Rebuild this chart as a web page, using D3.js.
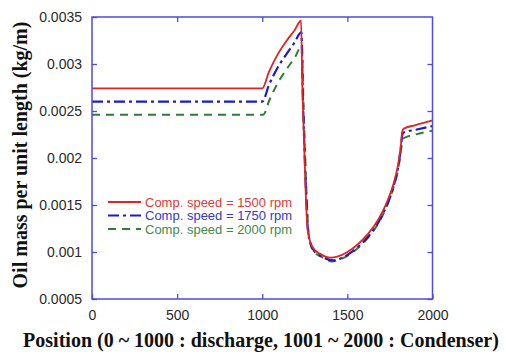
<!DOCTYPE html>
<html>
<head>
<meta charset="utf-8">
<script src="https://cdn.jsdelivr.net/npm/d3@7"></script>
<style>
  html, body { margin: 0; padding: 0; background: #fff; }
  svg { display: block; }
</style>
</head>
<body>
<svg id="chart" width="505" height="352"></svg>
<script>
// Oil mass per unit length along the discharge line (0-1000) and condenser (1001-2000)
const xTicks = [0, 500, 1000, 1500, 2000];
const yTicks = [0.0005, 0.001, 0.0015, 0.002, 0.0025, 0.003, 0.0035];
const yTickLabels = ["0.0005", "0.001", "0.0015", "0.002", "0.0025", "0.003", "0.0035"];

const seriesNames = ["Comp. speed = 1500 rpm", "Comp. speed = 1750 rpm", "Comp. speed = 2000 rpm"];

const pos1500 = [0, 500, 1000, 1040, 1090, 1140, 1190, 1228, 1235, 1245, 1255, 1265, 1280, 1300, 1340, 1400, 1440, 1500, 1560, 1620, 1680, 1730, 1770, 1800, 1815, 1822, 1830, 1900, 2000];
const mass1500 = [0.00274, 0.00274, 0.00274, 0.00292, 0.00310, 0.00324, 0.00336, 0.00346, 0.00280, 0.00220, 0.00164, 0.00127, 0.00112, 0.00104, 0.00098, 0.00094, 0.00095, 0.00100, 0.00108, 0.00119, 0.00134, 0.00152, 0.00172, 0.00195, 0.00215, 0.00228, 0.00231, 0.00235, 0.00240];

const pos1750 = [0, 500, 1000, 1040, 1090, 1140, 1190, 1230, 1238, 1248, 1258, 1268, 1282, 1302, 1342, 1420, 1460, 1500, 1560, 1620, 1680, 1730, 1770, 1800, 1815, 1822, 1830, 1900, 2000];
const mass1750 = [0.00260, 0.00260, 0.00260, 0.00278, 0.00296, 0.00310, 0.00323, 0.00334, 0.00270, 0.00210, 0.00160, 0.00124, 0.00110, 0.00102, 0.00096, 0.00091, 0.00093, 0.00097, 0.00105, 0.00116, 0.00131, 0.00149, 0.00169, 0.00192, 0.00212, 0.00224, 0.00227, 0.00230, 0.00234];

const pos2000 = [0, 500, 1005, 1045, 1095, 1145, 1195, 1233, 1242, 1252, 1262, 1272, 1286, 1306, 1346, 1410, 1450, 1500, 1560, 1620, 1680, 1730, 1770, 1800, 1815, 1822, 1830, 1900, 2000];
const mass2000 = [0.00246, 0.00246, 0.00246, 0.00263, 0.00281, 0.00295, 0.00308, 0.00320, 0.00260, 0.00203, 0.00155, 0.00121, 0.00107, 0.00100, 0.00095, 0.00090, 0.00092, 0.00096, 0.00104, 0.00115, 0.00130, 0.00148, 0.00168, 0.00190, 0.00208, 0.00219, 0.00221, 0.00225, 0.00229];

const series = [
  { name: seriesNames[0], x: pos1500, y: mass1500, color: "#e02424", text: "#e03a3a", width: 1.8, dash: null },
  { name: seriesNames[1], x: pos1750, y: mass1750, color: "#1a1ad0", text: "#3838c8", width: 2.2, dash: "11,4,3,4" },
  { name: seriesNames[2], x: pos2000, y: mass2000, color: "#2f7d35", text: "#3f8a45", width: 2.0, dash: "8,6" }
];

const svg = d3.select("#chart");
const L = 92, R = 432.5, T = 17, B = 299;
const x = d3.scaleLinear().domain([0, 2000]).range([L, R]);
const y = d3.scaleLinear().domain([0.0005, 0.0035]).range([B, T]);
const frameColor = "#4c4cdc";

// curves (clipped to the plot frame)
svg.append("clipPath").attr("id", "plotclip")
  .append("rect").attr("x", L).attr("y", T).attr("width", R - L).attr("height", B - T);

const line = d3.line()
  .x(d => x(d[0]))
  .y(d => y(d[1]))
  .curve(d3.curveMonotoneX);

const gLines = svg.append("g").attr("clip-path", "url(#plotclip)");
series.slice().reverse().forEach(s => {
  gLines.append("path")
    .datum(s.x.map((v, i) => [v, s.y[i]]))
    .attr("d", line)
    .attr("fill", "none")
    .attr("stroke", s.color)
    .attr("stroke-width", s.width)
    .attr("stroke-dasharray", s.dash);
});

// frame with inward ticks on all four sides
const fontSans = "'Liberation Sans', Arial, sans-serif";
const fontSerif = "'Liberation Serif', 'Times New Roman', serif";

const axB = d3.axisBottom(x).tickValues(xTicks).tickSizeInner(-5).tickSizeOuter(0).tickPadding(11).tickFormat(d3.format("d"));
const axT = d3.axisTop(x).tickValues(xTicks.slice(1, -1)).tickSizeInner(-5).tickSizeOuter(0).tickFormat("");
const axL = d3.axisLeft(y).tickValues(yTicks).tickSizeInner(-5).tickSizeOuter(0).tickPadding(10)
  .tickFormat((d, i) => yTickLabels[i]);
const axR = d3.axisRight(y).tickValues(yTicks.slice(0, -1)).tickSizeInner(-5).tickSizeOuter(0).tickFormat("");

function styleAxis(g) {
  g.select(".domain").remove();
  g.selectAll(".tick line").attr("stroke", frameColor).attr("stroke-width", 1.3);
  g.selectAll(".tick text").attr("fill", "#2a2a2a").style("font-family", fontSans).style("font-size", "14px");
}
svg.append("g").attr("transform", `translate(0,${B})`).call(axB).call(styleAxis);
svg.append("g").attr("transform", `translate(0,${T})`).call(axT).call(styleAxis);
svg.append("g").attr("transform", `translate(${L},0)`).call(axL).call(styleAxis);
svg.append("g").attr("transform", `translate(${R},0)`).call(axR).call(styleAxis);

svg.append("rect")
  .attr("x", L).attr("y", T).attr("width", R - L).attr("height", B - T)
  .attr("fill", "none").attr("stroke", frameColor).attr("stroke-width", 1.5);

// axis titles
svg.append("text")
  .attr("x", 261).attr("y", 347)
  .attr("text-anchor", "middle")
  .style("font-family", fontSerif).style("font-weight", "bold").style("font-size", "20px")
  .attr("fill", "#111")
  .text("Position (0 ~ 1000 : discharge, 1001 ~ 2000 : Condenser)");

svg.append("text")
  .attr("transform", "translate(27,155) rotate(-90)")
  .attr("text-anchor", "middle")
  .style("font-family", fontSerif).style("font-weight", "bold").style("font-size", "20px")
  .attr("fill", "#111")
  .text("Oil mass per unit length (kg/m)");

// legend
const legend = svg.append("g");
series.forEach((s, i) => {
  const yy = 202 + i * 13.5;
  legend.append("line")
    .attr("x1", 108).attr("x2", 141).attr("y1", yy).attr("y2", yy)
    .attr("stroke", s.color).attr("stroke-width", s.width)
    .attr("stroke-dasharray", s.dash);
  legend.append("text")
    .attr("x", 145).attr("y", yy).attr("dy", "0.36em")
    .style("font-family", fontSans).style("font-size", "13px")
    .attr("fill", s.text)
    .text(s.name);
});
</script>
</body>
</html>
